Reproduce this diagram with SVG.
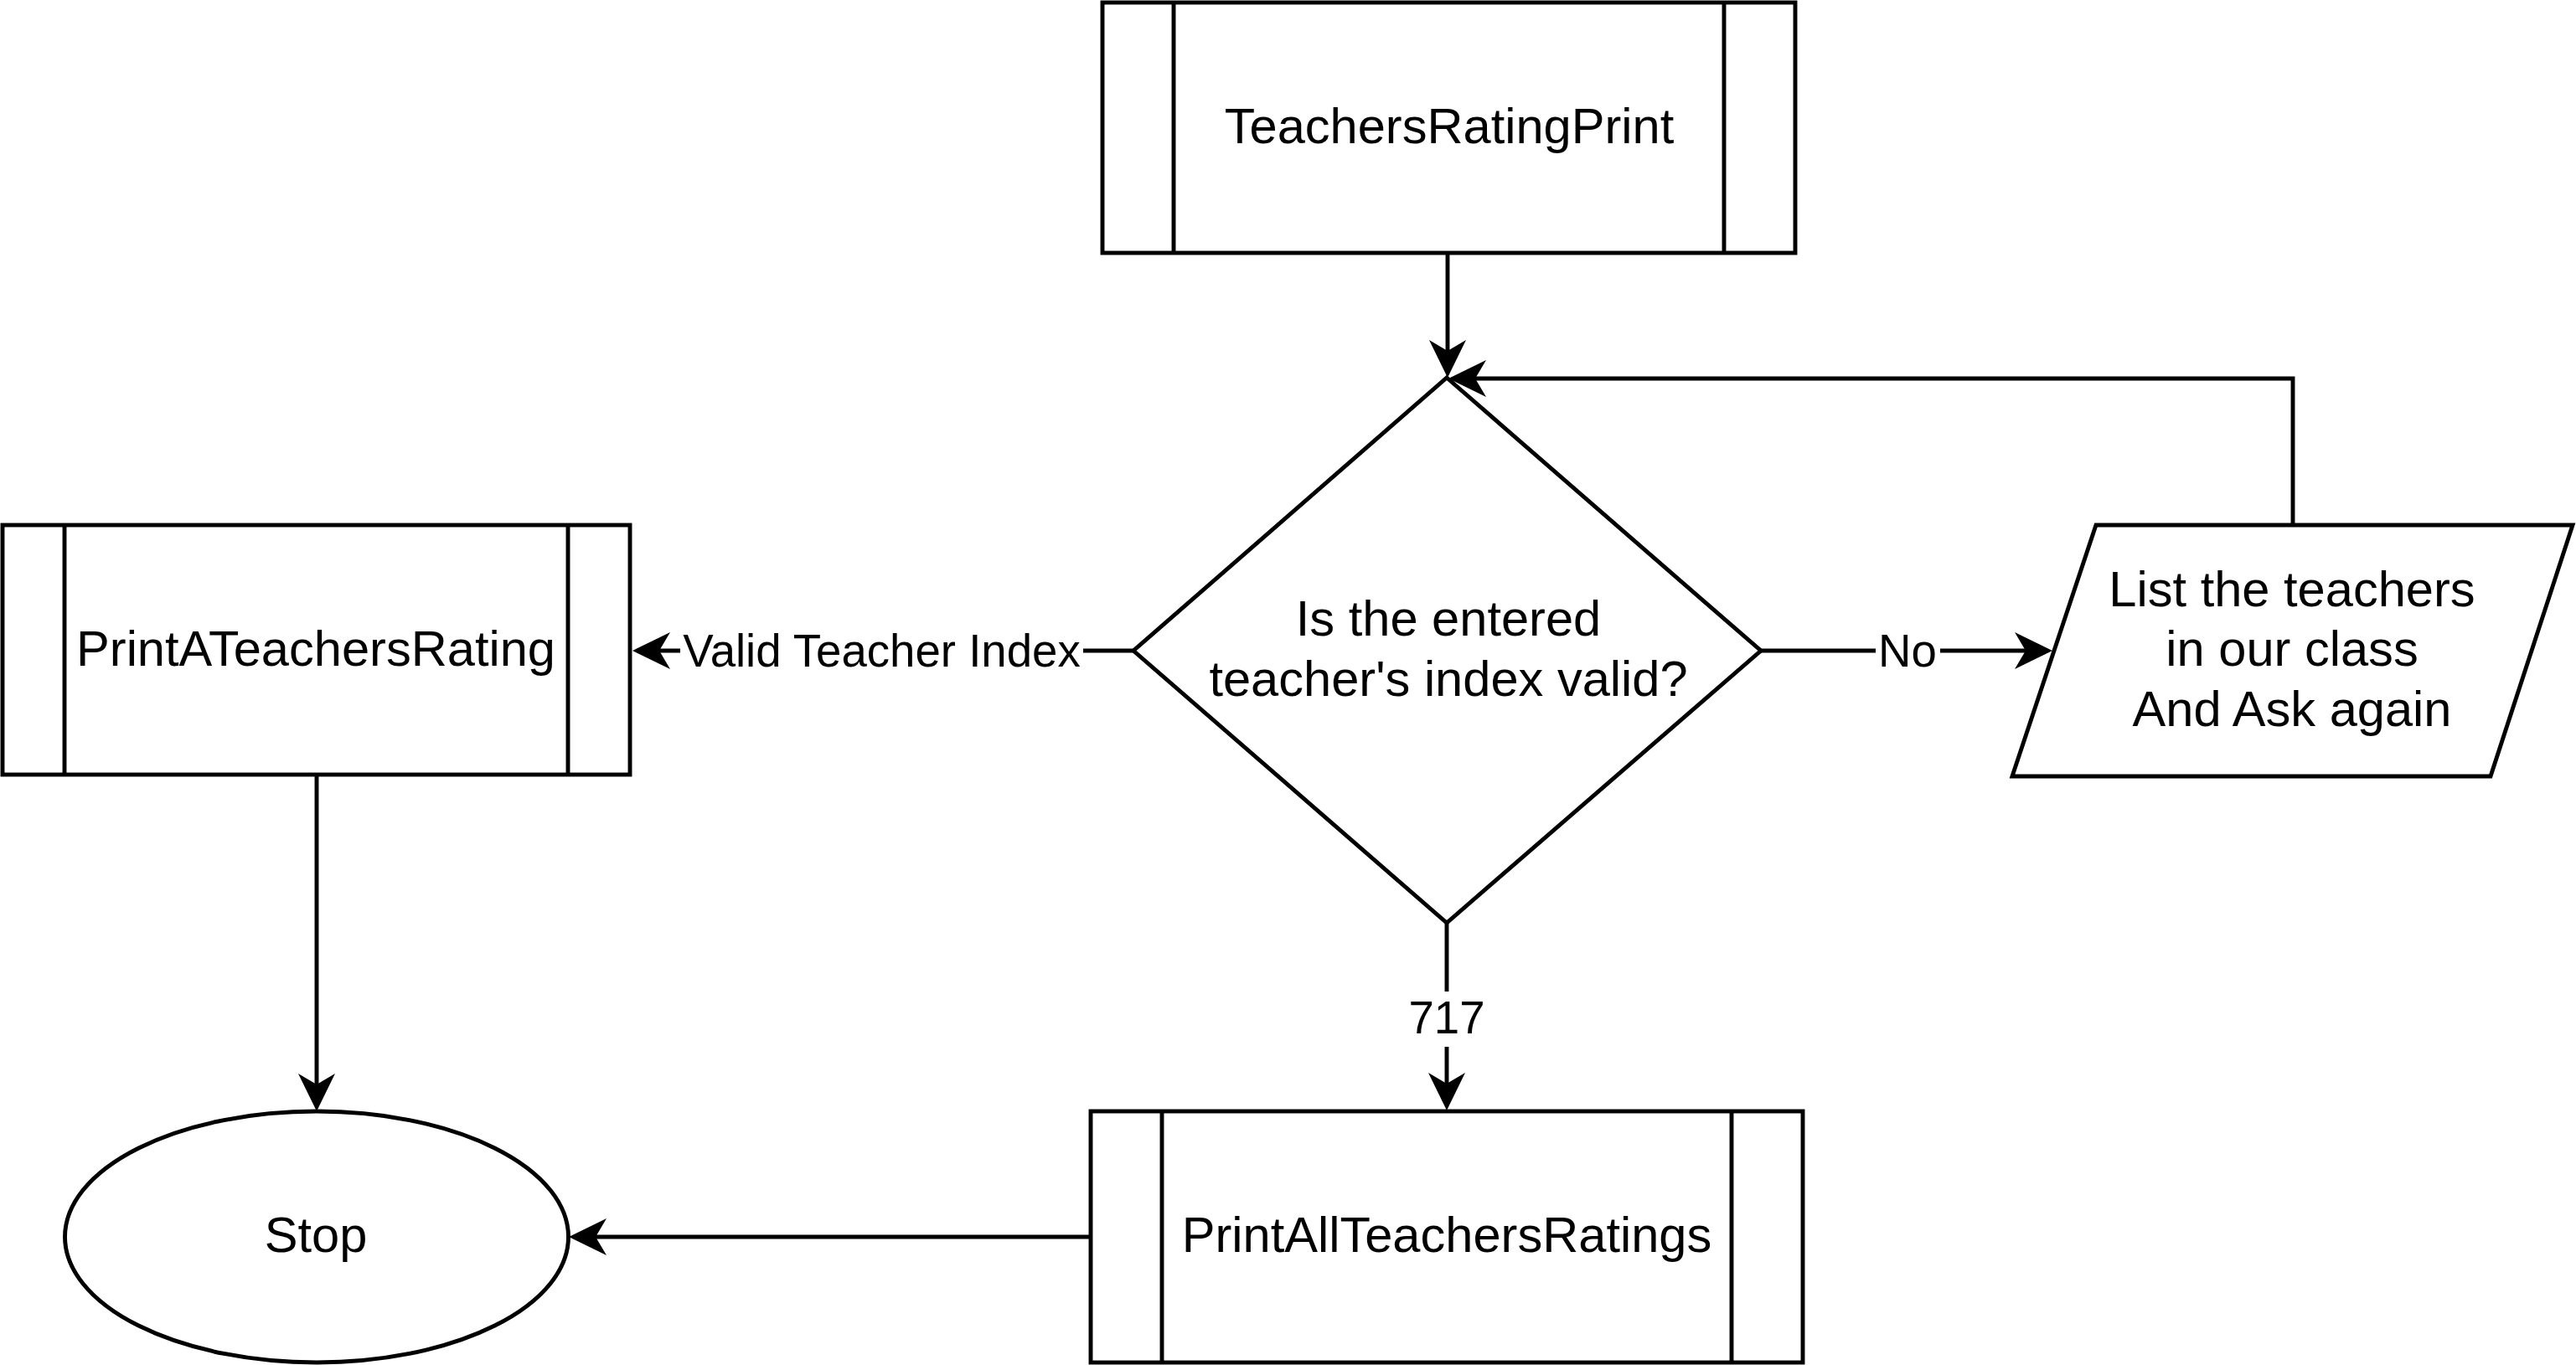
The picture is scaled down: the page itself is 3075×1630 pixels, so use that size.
<svg xmlns="http://www.w3.org/2000/svg" width="3075" height="1630" viewBox="0 0 3075 1630">
<style>
.shape{fill:#fff;stroke:#000;stroke-width:4.9}
.div{fill:none;stroke:#000;stroke-width:4.9}
.edge{fill:none;stroke:#000;stroke-width:4.9}
.t{font-family:"Liberation Sans",Arial,Helvetica,sans-serif;font-size:59.6px;fill:#000;text-anchor:middle}
.lbl{font-family:"Liberation Sans",Arial,Helvetica,sans-serif;font-size:54.6px;fill:#000;text-anchor:middle}
.lblbg{fill:#fff;stroke:none}
</style>
<defs>
<marker id="arr" markerUnits="userSpaceOnUse" viewBox="-13 -22 45 44" refX="0" refY="0" markerWidth="45" markerHeight="44" orient="auto" overflow="visible">
<path d="M32,0 L-13,-22 L0,0 L-13,22 Z" fill="#000"/>
</marker>
</defs>
<rect width="3075" height="1630" fill="#fff"/>
<g id="connectors">
<path class="edge" d="M1728,302 V419" marker-end="url(#arr)"/>
<path class="edge" d="M2737,627 V452 H1761" marker-end="url(#arr)"/>
<path class="edge" d="M1353,777 H787" marker-end="url(#arr)"/>
<path class="edge" d="M2102,777 H2418" marker-end="url(#arr)"/>
<path class="edge" d="M1727,1102 V1294" marker-end="url(#arr)"/>
<path class="edge" d="M378,925 V1295" marker-end="url(#arr)"/>
<path class="edge" d="M1302,1477 H711" marker-end="url(#arr)"/>
<rect class="lblbg" x="812" y="746" width="481" height="62"/>
<text class="lbl" x="1052.5" y="796">Valid Teacher Index</text>
<rect class="lblbg" x="2239" y="746" width="77" height="62"/>
<text class="lbl" x="2277" y="796">No</text>
<rect class="lblbg" x="1682" y="1184" width="90" height="66"/>
<text class="lbl" x="1727" y="1234">717</text>
</g>
<g id="node-teachersratingprint">
<rect class="shape" x="1316" y="3" width="827" height="299"/>
<line class="div" x1="1401" y1="3" x2="1401" y2="302"/>
<line class="div" x1="2058" y1="3" x2="2058" y2="302"/>
<text class="t" x="1730" y="171">TeachersRatingPrint</text>
</g>
<g id="node-decision">
<polygon class="shape" points="1727,451 2102,777 1727,1102 1353,777"/>
<text class="t" x="1729" y="759">Is the entered</text>
<text class="t" x="1729" y="831">teacher's index valid?</text>
</g>
<g id="node-printateachersrating">
<rect class="shape" x="3" y="627" width="749" height="298"/>
<line class="div" x1="77" y1="627" x2="77" y2="925"/>
<line class="div" x1="678" y1="627" x2="678" y2="925"/>
<text class="t" x="377" y="795">PrintATeachersRating</text>
</g>
<g id="node-listteachers">
<polygon class="shape" points="2502,627 3071,627 2973,927 2402,927"/>
<text class="t" x="2736" y="724">List the teachers</text>
<text class="t" x="2736" y="795">in our class</text>
<text class="t" x="2736" y="867">And Ask again</text>
</g>
<g id="node-printallteachersratings">
<rect class="shape" x="1302" y="1327" width="850" height="300"/>
<line class="div" x1="1387" y1="1327" x2="1387" y2="1627"/>
<line class="div" x1="2067" y1="1327" x2="2067" y2="1627"/>
<text class="t" x="1727" y="1495">PrintAllTeachersRatings</text>
</g>
<g id="node-stop">
<ellipse class="shape" cx="378" cy="1477" rx="300.5" ry="150"/>
<text class="t" x="377" y="1495">Stop</text>
</g>
</svg>
